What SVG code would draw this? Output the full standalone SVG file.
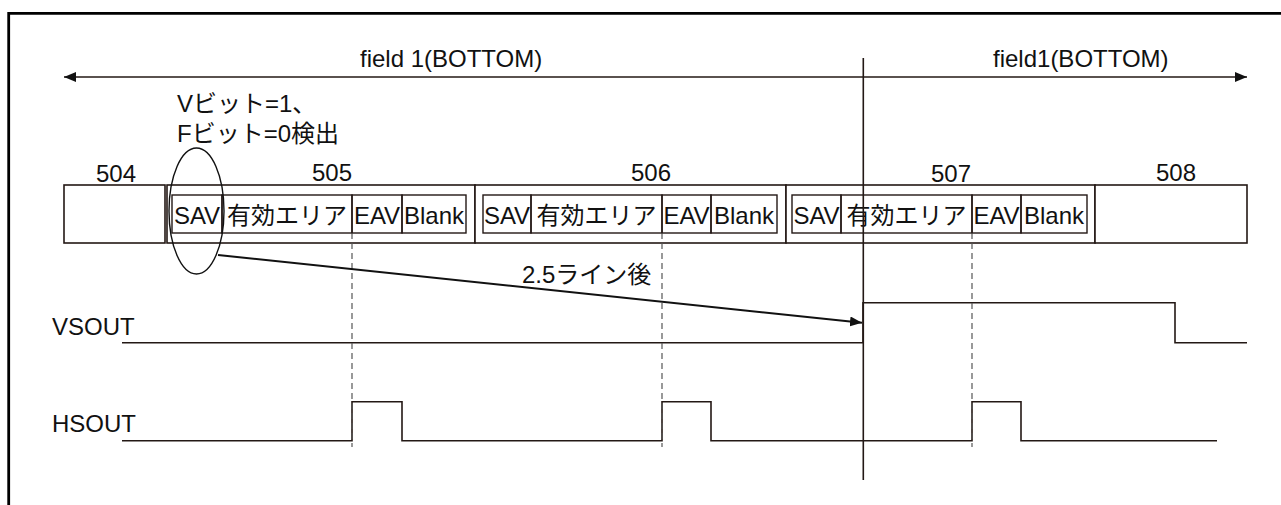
<svg xmlns="http://www.w3.org/2000/svg" width="1281" height="505" viewBox="0 0 1281 505">
<defs>
<style>
.ln{fill:none;stroke:#231815;stroke-width:1.6}
.bx{fill:#fff;stroke:#231815;stroke-width:1.6}
.ib{fill:none;stroke:#231815;stroke-width:1.4}
.ds{fill:none;stroke:#555;stroke-width:1.2;stroke-dasharray:6 4}
.t{font-family:"Liberation Sans","Noto Sans CJK JP",sans-serif;font-size:24px;fill:#111}
.c{text-anchor:middle}
</style>
<marker id="ah" viewBox="0 0 12 10" refX="12" refY="5" markerWidth="12" markerHeight="10" markerUnits="userSpaceOnUse" orient="auto-start-reverse">
<path d="M0,0 L12,5 L0,10 Z" fill="#111"/>
</marker>
</defs>
<rect width="1281" height="505" fill="#fff"/>
<g id="frame">
<path d="M8.7,505 V13.3 H1281" fill="none" stroke="#000" stroke-width="2.8"/>
</g>
<g id="field-arrow">
<line x1="64" y1="77" x2="1247" y2="77" class="ln" marker-start="url(#ah)" marker-end="url(#ah)"/>
<text x="360" y="67" class="t">field 1(BOTTOM)</text>
<text x="993" y="67" class="t">field1(BOTTOM)</text>
</g>
<g id="note">
<text x="177" y="112" class="t">Vビット=1、</text>
<text x="177" y="141.5" class="t">Fビット=0検出</text>
</g>
<g id="line504">
<rect x="64" y="185" width="101" height="58" class="bx"/>
<text x="116" y="181.5" class="t c">504</text>
</g>
<g id="line505">
<rect x="167" y="185" width="308" height="58" class="bx"/>
<text x="332" y="181" class="t c">505</text>
<rect x="172" y="195" width="50" height="38" class="ib"/>
<rect x="222" y="195" width="130" height="38" class="ib"/>
<rect x="352" y="195" width="50" height="38" class="ib"/>
<rect x="402" y="195" width="64" height="38" class="ib"/>
<text x="197" y="224" class="t c">SAV</text>
<text x="287" y="224" class="t c">有効エリア</text>
<text x="377" y="224" class="t c">EAV</text>
<text x="434" y="224" class="t c">Blank</text>
</g>
<g id="line506">
<rect x="475" y="185" width="311" height="58" class="bx"/>
<text x="651" y="181" class="t c">506</text>
<rect x="483" y="195" width="48" height="38" class="ib"/>
<rect x="531" y="195" width="131" height="38" class="ib"/>
<rect x="662" y="195" width="49" height="38" class="ib"/>
<rect x="711" y="195" width="66" height="38" class="ib"/>
<text x="507" y="224" class="t c">SAV</text>
<text x="596.5" y="224" class="t c">有効エリア</text>
<text x="686.5" y="224" class="t c">EAV</text>
<text x="744" y="224" class="t c">Blank</text>
</g>
<g id="line507">
<rect x="786" y="185" width="309" height="58" class="bx"/>
<text x="951" y="182" class="t c">507</text>
<rect x="792" y="195" width="49" height="38" class="ib"/>
<rect x="841" y="195" width="131" height="38" class="ib"/>
<rect x="972" y="195" width="49" height="38" class="ib"/>
<rect x="1021" y="195" width="66" height="38" class="ib"/>
<text x="816.5" y="224" class="t c">SAV</text>
<text x="906.5" y="224" class="t c">有効エリア</text>
<text x="996.5" y="224" class="t c">EAV</text>
<text x="1054" y="224" class="t c">Blank</text>
</g>
<g id="line508">
<rect x="1095" y="185" width="152" height="58" class="bx"/>
<text x="1176" y="181" class="t c">508</text>
</g>
<g id="signals">
<text x="52" y="335" class="t">VSOUT</text>
<text x="52" y="431.5" class="t">HSOUT</text>
<path d="M122,342.7 H863 V302.7 H1175 V342.7 H1247" class="ln"/>
<path d="M122,440.7 H352 V401.7 H402 V440.7 H662 V401.7 H711 V440.7 H972 V401.7 H1021 V440.7 H1217" class="ln"/>
</g>
<g id="connectors">
<line x1="352" y1="233" x2="352" y2="447" class="ds"/>
<line x1="662" y1="233" x2="662" y2="447" class="ds"/>
<line x1="972" y1="233" x2="972" y2="447" class="ds"/>
<line x1="863.3" y1="58" x2="863.3" y2="480" class="ln"/>
<ellipse cx="196.5" cy="211" rx="27.5" ry="63" fill="none" stroke="#111" stroke-width="1.4"/>
<line x1="218" y1="255" x2="862" y2="322.7" stroke="#111" stroke-width="2" marker-end="url(#ah)"/>
<text x="522" y="283" class="t">2.5ライン後</text>
</g>
</svg>
